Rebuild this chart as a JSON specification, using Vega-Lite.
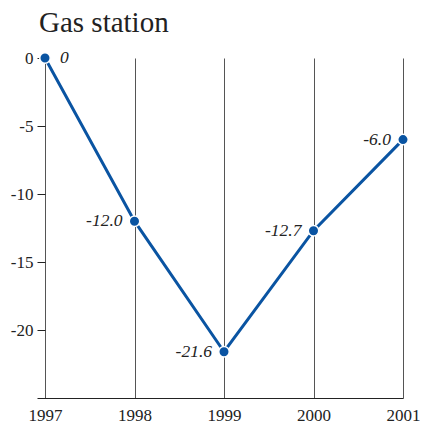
{
  "$schema": "https://vega.github.io/schema/vega-lite/v6.json",
  "autosize": "none",
  "width": 366,
  "height": 340,
  "padding": {"left": 37, "top": 58, "right": 22, "bottom": 27},
  "background": "white",
  "title": {
    "text": "Gas station",
    "font": "Times New Roman",
    "fontSize": 29,
    "fontWeight": "normal",
    "color": "#222222",
    "anchor": "start",
    "frame": "group",
    "dx": 2,
    "offset": 11
  },
  "config": {"view": {"stroke": null}, "font": "Times New Roman"},
  "data": {
    "values": [
      {"year": 1997, "value": 0, "label": "0"},
      {"year": 1998, "value": -12.0, "label": "-12.0"},
      {"year": 1999, "value": -21.6, "label": "-21.6"},
      {"year": 2000, "value": -12.7, "label": "-12.7"},
      {"year": 2001, "value": -6.0, "label": "-6.0"}
    ]
  },
  "encoding": {
    "x": {
      "field": "year",
      "type": "quantitative",
      "scale": {"domain": [1996.9106, 2001], "nice": false, "zero": false},
      "axis": {
        "title": null,
        "values": [1997, 1998, 1999, 2000, 2001],
        "labelExpr": "'' + datum.value",
        "grid": true,
        "gridColor": "#555555",
        "gridWidth": 1,
        "gridOpacity": 1,
        "ticks": false,
        "domainColor": "#222222",
        "domainWidth": 1.2,
        "labelFont": "Times New Roman",
        "labelFontSize": 17,
        "labelColor": "#222222",
        "labelPadding": 9,
        "labelFlush": false
      }
    },
    "y": {
      "field": "value",
      "type": "quantitative",
      "scale": {"domain": [-25, 0], "nice": false},
      "axis": {
        "title": null,
        "values": [0, -5, -10, -15, -20],
        "labelExpr": "'' + datum.value",
        "grid": false,
        "domain": false,
        "offset": -8,
        "ticks": true,
        "tickSize": 8,
        "tickColor": "#222222",
        "labelFont": "Times New Roman",
        "labelFontSize": 17,
        "labelColor": "#222222",
        "labelPadding": 4
      }
    }
  },
  "layer": [
    {"mark": {"type": "line", "color": "#0a54a2", "strokeWidth": 3}},
    {"mark": {"type": "point", "filled": true, "color": "#0a54a2", "size": 110, "opacity": 1, "stroke": "white", "strokeWidth": 1.5}},
    {
      "transform": [{"filter": "datum.year == 1997"}],
      "mark": {"type": "text", "align": "left", "dx": 15, "font": "Times New Roman", "fontStyle": "italic", "fontSize": 17.5, "color": "#222222"},
      "encoding": {"text": {"field": "label"}}
    },
    {
      "transform": [{"filter": "datum.year != 1997"}],
      "mark": {"type": "text", "align": "right", "dx": -12, "font": "Times New Roman", "fontStyle": "italic", "fontSize": 17.5, "color": "#222222"},
      "encoding": {"text": {"field": "label"}}
    }
  ]
}
